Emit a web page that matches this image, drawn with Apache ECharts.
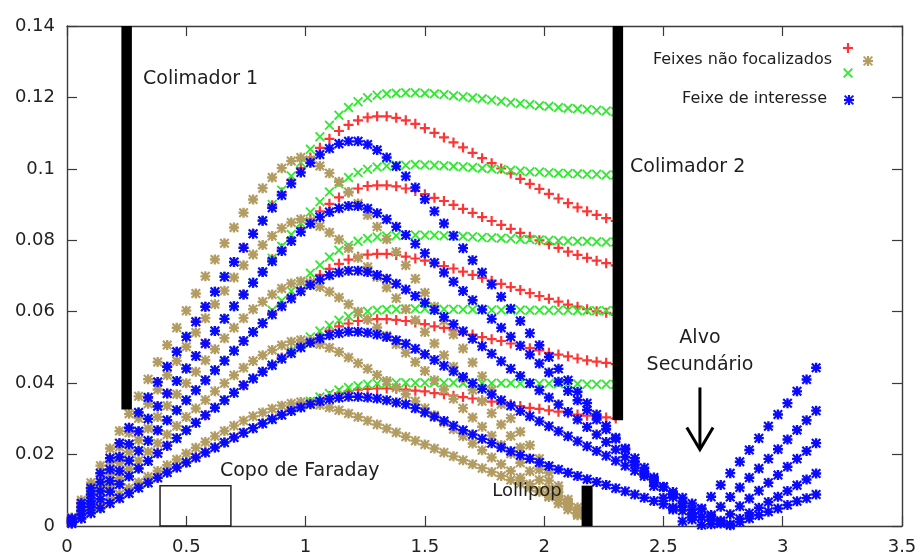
<!DOCTYPE html>
<html>
<head>
<meta charset="utf-8">
<script src="https://cdn.jsdelivr.net/npm/echarts@6/dist/echarts.min.js"></script>
<style>
  html, body { margin: 0; padding: 0; background: #fff; }
  #c { width: 922px; height: 560px; }
</style>
</head>
<body>
<div id="c"></div>
<script>
// Beam envelope through the solenoid: radial position (m) versus z (m).
const xs = [0.02,0.06,0.10,0.14,0.18,0.22,0.26,0.30,0.34,0.38,0.42,0.46,0.50,0.54,0.58,0.62,0.66,0.70,0.74,0.78,0.82,
  0.86,0.90,0.94,0.98,1.02,1.06,1.10,1.14,1.18,1.22,1.26,1.30,1.34,1.38,1.42,
  1.46,1.50,1.54,1.58,1.62,1.66,1.70,1.74,1.78,1.82,1.86,1.90,1.94,1.98,2.02,2.06,2.10,2.14,2.18,2.22,2.26,2.30,
  2.34,2.38,2.42,2.46,2.50,2.54,2.58,2.62,2.66,2.70,2.74,2.78,2.82,2.86,2.90,2.94,2.98,3.02,3.06,3.10,3.14];

// Beam of interest (focused on the secondary target)
const blue1 = [0.0021,0.0064,0.0106,0.0148,0.0190,0.0232,0.0275,0.0318,0.0360,0.0403,0.0446,0.0488,0.0530,0.0572,0.0614,0.0656,0.0698,0.0739,0.0779,0.0818,0.0855,
  0.0891,0.0926,0.0959,0.0990,0.1017,0.1040,0.1057,0.1070,0.1077,0.1077,0.1068,0.1053,0.1032,0.1007,0.0979,
  0.0948,0.0915,0.0881,0.0847,0.0813,0.0778,0.0744,0.0710,0.0676,0.0642,0.0608,0.0574,0.0540,0.0506,0.0473,0.0440,0.0408,0.0376,0.0344,0.0312,0.0280,0.0247,0.0214,0.0180,0.0146,0.0112,0.0079,0.0046,0.0013,0.0018,
  0.0049,0.0082,0.0115,0.0148,0.0180,0.0213,0.0246,0.0279,0.0312,0.0344,0.0377,0.0410,0.0443];
const blue2 = [0.0017,0.0053,0.0088,0.0123,0.0158,0.0193,0.0229,0.0265,0.0300,0.0335,0.0371,0.0406,0.0441,0.0476,0.0511,0.0546,0.0580,0.0615,0.0648,0.0681,0.0711,
  0.0741,0.0770,0.0798,0.0824,0.0846,0.0865,0.0879,0.0890,0.0896,0.0896,0.0889,0.0876,0.0859,0.0838,0.0815,
  0.0790,0.0764,0.0737,0.0710,0.0684,0.0658,0.0632,0.0606,0.0580,0.0555,0.0530,0.0505,0.0480,0.0455,0.0430,0.0404,0.0378,0.0352,0.0325,0.0298,0.0271,0.0244,0.0217,0.0190,0.0163,0.0136,0.0109,0.0081,0.0054,0.0027,
  0.0003,0.0027,0.0054,0.0081,0.0108,0.0135,0.0161,0.0188,0.0215,0.0242,0.0269,0.0296,0.0323];
const blue3 = [0.0014,0.0042,0.0070,0.0098,0.0126,0.0154,0.0183,0.0211,0.0239,0.0268,0.0296,0.0324,0.0352,0.0380,0.0408,0.0436,0.0463,0.0491,0.0518,0.0543,0.0568,
  0.0592,0.0615,0.0637,0.0657,0.0675,0.0690,0.0702,0.0710,0.0715,0.0715,0.0711,0.0703,0.0692,0.0678,0.0662,
  0.0644,0.0625,0.0605,0.0585,0.0565,0.0545,0.0524,0.0503,0.0482,0.0461,0.0440,0.0420,0.0400,0.0380,0.0360,0.0340,0.0319,0.0298,0.0277,0.0256,0.0235,0.0214,0.0193,0.0172,0.0151,0.0130,0.0109,0.0088,0.0067,0.0046,
  0.0025,0.0005,0.0011,0.0033,0.0055,0.0077,0.0099,0.0121,0.0143,0.0166,0.0188,0.0210,0.0232];
const blue4 = [0.0011,0.0032,0.0054,0.0075,0.0096,0.0117,0.0139,0.0161,0.0182,0.0204,0.0225,0.0246,0.0268,0.0289,0.0310,0.0331,0.0352,0.0373,0.0394,0.0413,0.0432,
  0.0450,0.0468,0.0484,0.0500,0.0513,0.0525,0.0534,0.0540,0.0544,0.0544,0.0541,0.0536,0.0529,0.0520,0.0510,
  0.0496,0.0481,0.0465,0.0449,0.0433,0.0417,0.0400,0.0384,0.0368,0.0352,0.0337,0.0322,0.0307,0.0293,0.0279,0.0265,0.0251,0.0237,0.0223,0.0210,0.0197,0.0183,0.0169,0.0155,0.0140,0.0125,0.0110,0.0095,0.0079,0.0063,
  0.0047,0.0031,0.0015,0.0005,0.0020,0.0036,0.0051,0.0067,0.0082,0.0098,0.0114,0.0130,0.0147];
const blue5 = [0.0007,0.0021,0.0036,0.0050,0.0064,0.0078,0.0092,0.0107,0.0121,0.0135,0.0150,0.0164,0.0178,0.0192,0.0206,0.0220,0.0234,0.0248,0.0261,0.0274,0.0287,
  0.0299,0.0311,0.0322,0.0332,0.0341,0.0349,0.0355,0.0359,0.0362,0.0362,0.0360,0.0357,0.0352,0.0346,0.0341,
  0.0330,0.0318,0.0306,0.0294,0.0281,0.0268,0.0256,0.0244,0.0232,0.0220,0.0209,0.0198,0.0188,0.0178,0.0168,0.0158,0.0149,0.0140,0.0131,0.0123,0.0115,0.0106,0.0097,0.0088,0.0079,0.0070,0.0061,0.0052,0.0043,0.0034,
  0.0025,0.0016,0.0007,0.0002,0.0011,0.0021,0.0030,0.0040,0.0049,0.0059,0.0069,0.0078,0.0088];

// Unfocused beams that stop on the lollipop (z = 0.02 ... 2.14)
const tan1 = [0.0024,0.0072,0.0121,0.0169,0.0217,0.0266,0.0314,0.0363,0.0411,0.0459,0.0507,0.0555,0.0603,0.0651,0.0699,0.0746,0.0792,0.0836,0.0877,0.0914,0.0946,0.0976,0.1002,0.1022,0.1032,0.1025,0.1008,0.0988,0.0964,0.0935,0.0903,0.0871,0.0838,0.0803,0.0767,0.0730,0.0692,0.0653,0.0614,0.0575,0.0536,0.0497,0.0458,0.0419,0.0380,0.0341,0.0302,0.0264,0.0226,0.0188,0.0150,0.0112,0.0074,0.0036];
const tan2 = [0.0020,0.0060,0.0101,0.0141,0.0181,0.0221,0.0261,0.0302,0.0342,0.0382,0.0422,0.0462,0.0502,0.0542,0.0582,0.0621,0.0659,0.0696,0.0730,0.0760,0.0787,0.0812,0.0834,0.0850,0.0859,0.0853,0.0839,0.0822,0.0802,0.0778,0.0751,0.0725,0.0697,0.0668,0.0638,0.0607,0.0576,0.0543,0.0511,0.0478,0.0446,0.0414,0.0381,0.0349,0.0316,0.0284,0.0252,0.0220,0.0189,0.0158,0.0127,0.0096,0.0066,0.0036];
const tan3 = [0.0016,0.0048,0.0080,0.0112,0.0144,0.0177,0.0208,0.0241,0.0273,0.0305,0.0337,0.0369,0.0400,0.0432,0.0464,0.0495,0.0526,0.0555,0.0582,0.0607,0.0628,0.0648,0.0665,0.0679,0.0685,0.0681,0.0669,0.0656,0.0640,0.0621,0.0600,0.0578,0.0556,0.0533,0.0509,0.0485,0.0459,0.0434,0.0408,0.0382,0.0356,0.0330,0.0304,0.0278,0.0253,0.0227,0.0202,0.0177,0.0153,0.0129,0.0105,0.0082,0.0059,0.0036];
const tan4 = [0.0012,0.0036,0.0061,0.0085,0.0110,0.0134,0.0159,0.0183,0.0208,0.0232,0.0256,0.0280,0.0305,0.0329,0.0353,0.0377,0.0400,0.0422,0.0443,0.0462,0.0478,0.0493,0.0506,0.0516,0.0521,0.0518,0.0509,0.0499,0.0487,0.0472,0.0456,0.0440,0.0423,0.0406,0.0387,0.0369,0.0349,0.0330,0.0310,0.0290,0.0271,0.0251,0.0231,0.0212,0.0192,0.0173,0.0154,0.0135,0.0117,0.0099,0.0081,0.0063,0.0046,0.0030];
const tan5 = [0.0008,0.0024,0.0041,0.0057,0.0073,0.0089,0.0106,0.0122,0.0138,0.0154,0.0170,0.0186,0.0203,0.0219,0.0235,0.0251,0.0266,0.0281,0.0295,0.0307,0.0318,0.0328,0.0337,0.0343,0.0347,0.0344,0.0339,0.0332,0.0324,0.0315,0.0305,0.0295,0.0284,0.0273,0.0262,0.0250,0.0239,0.0228,0.0217,0.0206,0.0195,0.0184,0.0173,0.0162,0.0151,0.0140,0.0129,0.0118,0.0107,0.0096,0.0085,0.0074,0.0063,0.0052];

// Red and green beams follow the blue trajectories up to z = 0.82;
// below are their values from z = 0.86 to the second collimator (z = 2.30).
const sharedRise = 21;
const redTail1 = [0.0898,0.0934,0.0969,0.1002,0.1032,0.1059,0.1084,0.1106,0.1123,0.1136,0.1144,0.1147,0.1147,0.1143,0.1136,0.1126,0.1114,0.1101,0.1088,0.1074,0.1060,0.1045,0.1030,0.1016,0.1001,0.0987,0.0972,0.0958,0.0944,0.0930,0.0917,0.0904,0.0892,0.0881,0.0871,0.0862,0.0854];
const redTail2 = [0.0747,0.0777,0.0806,0.0834,0.0859,0.0881,0.0902,0.0920,0.0934,0.0945,0.0952,0.0954,0.0954,0.0951,0.0945,0.0938,0.0929,0.0919,0.0910,0.0899,0.0888,0.0877,0.0865,0.0854,0.0843,0.0832,0.0821,0.0810,0.0800,0.0789,0.0779,0.0768,0.0759,0.0751,0.0743,0.0736,0.0730];
const redTail3 = [0.0596,0.0620,0.0643,0.0665,0.0685,0.0703,0.0720,0.0734,0.0746,0.0754,0.0760,0.0762,0.0762,0.0759,0.0754,0.0749,0.0743,0.0735,0.0728,0.0721,0.0712,0.0703,0.0695,0.0687,0.0678,0.0669,0.0661,0.0652,0.0644,0.0636,0.0628,0.0620,0.0614,0.0607,0.0601,0.0597,0.0592];
const redTail4 = [0.0453,0.0472,0.0489,0.0506,0.0521,0.0535,0.0547,0.0559,0.0567,0.0574,0.0578,0.0579,0.0579,0.0577,0.0574,0.0570,0.0565,0.0559,0.0555,0.0549,0.0543,0.0536,0.0529,0.0523,0.0518,0.0511,0.0504,0.0498,0.0492,0.0485,0.0480,0.0475,0.0469,0.0464,0.0460,0.0457,0.0453];
const redTail5 = [0.0302,0.0314,0.0326,0.0337,0.0347,0.0356,0.0364,0.0372,0.0377,0.0382,0.0384,0.0385,0.0385,0.0384,0.0382,0.0379,0.0377,0.0372,0.0369,0.0365,0.0361,0.0357,0.0352,0.0348,0.0344,0.0341,0.0336,0.0331,0.0328,0.0324,0.0320,0.0316,0.0312,0.0309,0.0307,0.0304,0.0301];
const greenTail1 = [0.0900,0.0940,0.0980,0.1018,0.1055,0.1090,0.1122,0.1150,0.1172,0.1188,0.1199,0.1206,0.1210,0.1212,0.1213,0.1213,0.1212,0.1210,0.1208,0.1205,0.1202,0.1199,0.1196,0.1193,0.1189,0.1186,0.1183,0.1180,0.1177,0.1175,0.1172,0.1170,0.1168,0.1166,0.1164,0.1162,0.1160];
const greenTail2 = [0.0750,0.0783,0.0816,0.0848,0.0879,0.0908,0.0935,0.0958,0.0976,0.0990,0.0999,0.1005,0.1008,0.1010,0.1010,0.1012,0.1011,0.1010,0.1009,0.1007,0.1006,0.1004,0.1002,0.1000,0.0998,0.0996,0.0994,0.0992,0.0991,0.0989,0.0988,0.0987,0.0986,0.0985,0.0985,0.0983,0.0983];
const greenTail3 = [0.0604,0.0631,0.0658,0.0683,0.0708,0.0731,0.0753,0.0772,0.0786,0.0797,0.0805,0.0809,0.0812,0.0813,0.0814,0.0815,0.0814,0.0814,0.0813,0.0812,0.0811,0.0810,0.0808,0.0807,0.0806,0.0805,0.0803,0.0802,0.0801,0.0800,0.0799,0.0798,0.0797,0.0797,0.0796,0.0795,0.0795];
const greenTail4 = [0.0451,0.0471,0.0491,0.0510,0.0529,0.0546,0.0562,0.0576,0.0587,0.0595,0.0601,0.0604,0.0606,0.0607,0.0608,0.0608,0.0608,0.0607,0.0607,0.0607,0.0606,0.0606,0.0606,0.0605,0.0605,0.0605,0.0605,0.0604,0.0604,0.0604,0.0604,0.0604,0.0603,0.0603,0.0603,0.0603,0.0603];
const greenTail5 = [0.0298,0.0311,0.0324,0.0337,0.0349,0.0361,0.0371,0.0381,0.0388,0.0393,0.0397,0.0399,0.0400,0.0401,0.0401,0.0401,0.0401,0.0401,0.0401,0.0401,0.0400,0.0400,0.0400,0.0400,0.0400,0.0400,0.0399,0.0399,0.0399,0.0399,0.0398,0.0398,0.0398,0.0397,0.0397,0.0397,0.0396];

const xTicks = [0, 0.5, 1, 1.5, 2, 2.5, 3, 3.5];
const yTicks = [0, 0.02, 0.04, 0.06, 0.08, 0.1, 0.12, 0.14];

const blueSet = [blue1, blue2, blue3, blue4, blue5];
const tanSet = [tan1, tan2, tan3, tan4, tan5];
const redSet = [redTail1, redTail2, redTail3, redTail4, redTail5].map((t, i) => blueSet[i].slice(0, sharedRise).concat(t));
const greenSet = [greenTail1, greenTail2, greenTail3, greenTail4, greenTail5].map((t, i) => blueSet[i].slice(0, sharedRise).concat(t));

// gnuplot-like point glyphs
const PLUS = 'path://M3.9,0H6.1V10H3.9ZM0,3.9H10V6.1H0Z';
const CROSS = 'path://M0,1.3L1.3,0L10,8.7L8.7,10ZM8.7,0L10,1.3L1.3,10L0,8.7Z';
const STAR = 'path://M3.8,0H6.2V10H3.8ZM0,3.8H10V6.2H0ZM0,1.5L1.5,0L10,8.5L8.5,10ZM8.5,0L10,1.5L1.5,10L0,8.5ZM2.8,5L5,2.8L7.2,5L5,7.2Z';

const C_RED = '#ff3535', C_GREEN = '#2fe82f', C_TAN = '#b39c62', C_BLUE = '#0a0aff';
const FONT = 'DejaVu Sans, Verdana, sans-serif';

function beam(name, ys, color, symbol, size) {
  return {
    type: 'scatter', name, symbol, symbolSize: size,
    data: ys.map((y, i) => [xs[i], y]),
    itemStyle: { color, opacity: 1 },
    silent: true, animation: false, emphasis: { disabled: true }
  };
}

const series = [];
redSet.forEach((ys, i) => series.push(beam('red' + i, ys, C_RED, PLUS, 10)));
greenSet.forEach((ys, i) => series.push(beam('green' + i, ys, C_GREEN, CROSS, 10)));
tanSet.forEach((ys, i) => series.push(beam('tan' + i, ys, C_TAN, STAR, 10)));
blueSet.forEach((ys, i) => series.push(beam('blue' + i, ys, C_BLUE, STAR, 10)));

const fmt = v => String(+v.toFixed(2));
const axisLine = { show: true, onZero: false, lineStyle: { color: '#3a3a3a', width: 1.4 } };
const tick = { show: true, inside: true, length: 10, lineStyle: { color: '#3a3a3a', width: 1.2 } };

const chart = echarts.init(document.getElementById('c'), null, { renderer: 'canvas' });
chart.setOption({
  backgroundColor: '#ffffff',
  animation: false,
  grid: { left: 67, right: 20, top: 26, bottom: 34, containLabel: false },
  xAxis: [
    { type: 'value', min: xTicks[0], max: xTicks[xTicks.length - 1], interval: 0.5, position: 'bottom',
      axisLine, axisTick: tick, splitLine: { show: false },
      axisLabel: { margin: 12, color: '#222', fontFamily: FONT, fontSize: 18, formatter: fmt, showMinLabel: true, showMaxLabel: true } },
    { type: 'value', min: xTicks[0], max: xTicks[xTicks.length - 1], interval: 0.5, position: 'top',
      axisLine, axisTick: tick, splitLine: { show: false }, axisLabel: { show: false } }
  ],
  yAxis: [
    { type: 'value', min: yTicks[0], max: yTicks[yTicks.length - 1], interval: 0.02, position: 'left',
      axisLine, axisTick: tick, splitLine: { show: false },
      axisLabel: { margin: 12, color: '#222', fontFamily: FONT, fontSize: 18, formatter: fmt, showMinLabel: true, showMaxLabel: true } },
    { type: 'value', min: yTicks[0], max: yTicks[yTicks.length - 1], interval: 0.02, position: 'right',
      axisLine, axisTick: tick, splitLine: { show: false }, axisLabel: { show: false } }
  ],
  series
});

// Apparatus drawn in data coordinates
const P = (x, y) => chart.convertToPixel({ xAxisIndex: 0, yAxisIndex: 0 }, [x, y]);
function block(x0, x1, y0, y1, style) {
  const a = P(x0, y1), b = P(x1, y0);
  return { type: 'rect', z: 50, shape: { x: a[0], y: a[1], width: b[0] - a[0], height: b[1] - a[1] }, style };
}
function label(text, x, y, align, size) {
  const p = P(x, y);
  return { type: 'text', z: 60, x: p[0], y: p[1],
    style: { text, fill: '#1e1e1e', font: (size || 19) + 'px ' + FONT, textAlign: align || 'left', textVerticalAlign: 'middle' } };
}
// key glyphs built from simple shapes (plus, cross, or both)
function glyph(kind, cx, cy, color) {
  const parts = [];
  if (kind !== 'cross') {
    parts.push({ type: 'rect', shape: { x: -1.1, y: -5, width: 2.2, height: 10 } });
    parts.push({ type: 'rect', shape: { x: -5, y: -1.1, width: 10, height: 2.2 } });
  }
  if (kind !== 'plus') {
    parts.push({ type: 'polygon', shape: { points: [[-5, -3.7], [-3.7, -5], [5, 3.7], [3.7, 5]] } });
    parts.push({ type: 'polygon', shape: { points: [[3.7, -5], [5, -3.7], [-3.7, 5], [-5, 3.7]] } });
  }
  return { type: 'group', x: cx, y: cy,
    children: parts.map(p => Object.assign(p, { z: 60, style: { fill: color } })) };
}

const solid = { fill: '#000' };
const arrowTop = P(2.653, 0.0388), arrowTip = P(2.653, 0.0214), arrowWing = P(2.598, 0.0276);
const ax = arrowTip[0], dx = ax - arrowWing[0];
const plotRight = P(3.5, 0)[0];

chart.setOption({
  graphic: [
    block(0.228, 0.272, 0.0326, 0.14, solid),          // Colimador 1
    block(2.287, 2.331, 0.0296, 0.14, solid),          // Colimador 2
    block(2.157, 2.203, 0, 0.0113, solid),             // Lollipop
    block(0.39, 0.687, 0, 0.0113, { fill: 'none', stroke: '#222', lineWidth: 1.5 }), // Copo de Faraday
    label('Colimador 1', 0.3185, 0.1252),
    label('Colimador 2', 2.36, 0.1006),
    label('Alvo', 2.653, 0.0526, 'center'),
    label('Secundário', 2.653, 0.0452, 'center'),
    label('Copo de Faraday', 0.641, 0.0155),
    label('Lollipop', 1.928, 0.0098, 'center', 18),
    { type: 'line', z: 60, shape: { x1: ax, y1: arrowTop[1], x2: ax, y2: arrowTip[1] - 1 },
      style: { stroke: '#000', lineWidth: 3 } },
    { type: 'polyline', z: 60, shape: { points: [[ax - dx, arrowWing[1]], [ax, arrowTip[1]], [ax + dx, arrowWing[1]]] },
      style: { stroke: '#000', lineWidth: 3, fill: 'none' } },
    // key
    { type: 'text', z: 60, x: plotRight - 70, y: 60,
      style: { text: 'Feixes não focalizados', fill: '#1e1e1e', font: '16px ' + FONT, textAlign: 'right', textVerticalAlign: 'middle' } },
    glyph('plus', plotRight - 54, 48, C_RED),
    glyph('cross', plotRight - 54, 73, C_GREEN),
    glyph('star', plotRight - 34, 61, C_TAN),
    { type: 'text', z: 60, x: plotRight - 75, y: 99,
      style: { text: 'Feixe de interesse', fill: '#1e1e1e', font: '16px ' + FONT, textAlign: 'right', textVerticalAlign: 'middle' } },
    glyph('star', plotRight - 53, 100, C_BLUE)
  ]
});
</script>
</body>
</html>
